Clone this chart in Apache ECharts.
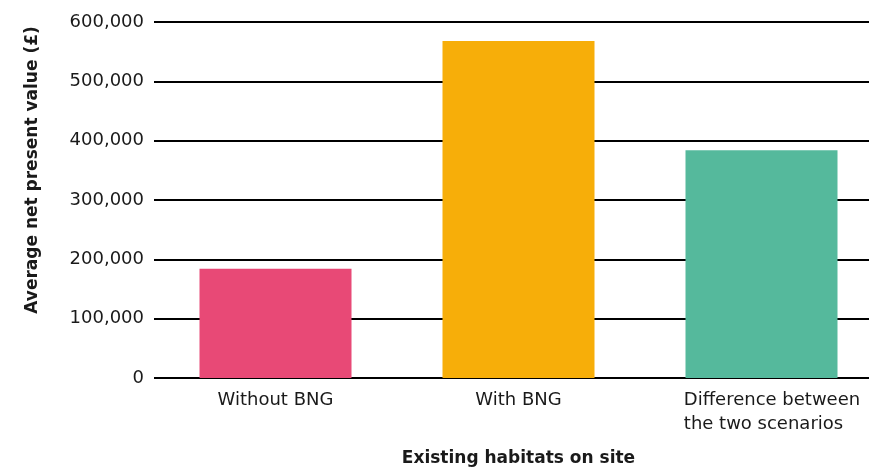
<!DOCTYPE html>
<html>
<head>
<meta charset="utf-8">
<script src="https://cdn.jsdelivr.net/npm/echarts@6/dist/echarts.min.js"></script>
<style>
  html, body { margin: 0; padding: 0; background: #ffffff; }
  #chart { width: 869px; height: 467px; }
</style>
</head>
<body>
<div id="chart"></div>
<script>
// Scenario categories along the x axis
const categories = ['Without BNG', 'With BNG', 'Difference between\nthe two scenarios'];
// Average net present value per scenario (£)
const values = [184000, 568000, 384000];
// Bar colour for each scenario
const barColors = ['#E84976', '#F7AE09', '#55B99C'];
// Value-axis ticks
const yMin = 0;
const yMax = 600000;
const yStep = 100000;

const FONT = 'DejaVu Sans';
const INK = '#1a1a1a';

const chart = echarts.init(document.getElementById('chart'), null, { renderer: 'canvas' });

chart.setOption({
  animation: false,
  backgroundColor: '#ffffff',
  grid: { left: 154, top: 22, width: 729, height: 356, containLabel: false, outerBoundsMode: 'none' },
  xAxis: {
    type: 'category',
    data: categories.map((c, i) => i === 2
      ? { value: c, textStyle: { padding: [0, 0, 0, 21], align: 'center' } }
      : c),
    axisLine: { show: false },
    axisTick: { show: false },
    axisLabel: {
      color: INK, fontFamily: FONT, fontSize: 18, margin: 10, lineHeight: 24,
      interval: 0,
      formatter: (v) => v.split('\n').map(s => '{l|' + s + '}').join('\n'),
      rich: { l: { align: 'left', fontFamily: FONT, fontSize: 18, color: INK, lineHeight: 24 } }
    },
    name: 'Existing habitats on site',
    nameLocation: 'middle',
    nameGap: 72,
    nameTextStyle: { color: INK, fontFamily: FONT, fontSize: 17, fontWeight: 'bold' }
  },
  yAxis: {
    type: 'value',
    min: yMin, max: yMax, interval: yStep,
    axisLine: { show: false },
    axisTick: { show: false },
    axisLabel: {
      color: INK, fontFamily: FONT, fontSize: 18, margin: 10,
      formatter: (v) => v.toLocaleString('en-GB')
    },
    splitLine: { lineStyle: { color: '#000000', width: 2 } }
  },
  graphic: [{
    type: 'text',
    x: 33, y: 170,
    rotation: Math.PI / 2,
    style: {
      text: 'Average net present value (£)',
      fill: INK, font: 'bold 17px "DejaVu Sans"',
      textAlign: 'center', textVerticalAlign: 'middle'
    }
  }],
  series: [{
    type: 'bar',
    barWidth: 152,
    data: values.map((v, i) => ({ value: v, itemStyle: { color: barColors[i] } }))
  }]
});
</script>
</body>
</html>
